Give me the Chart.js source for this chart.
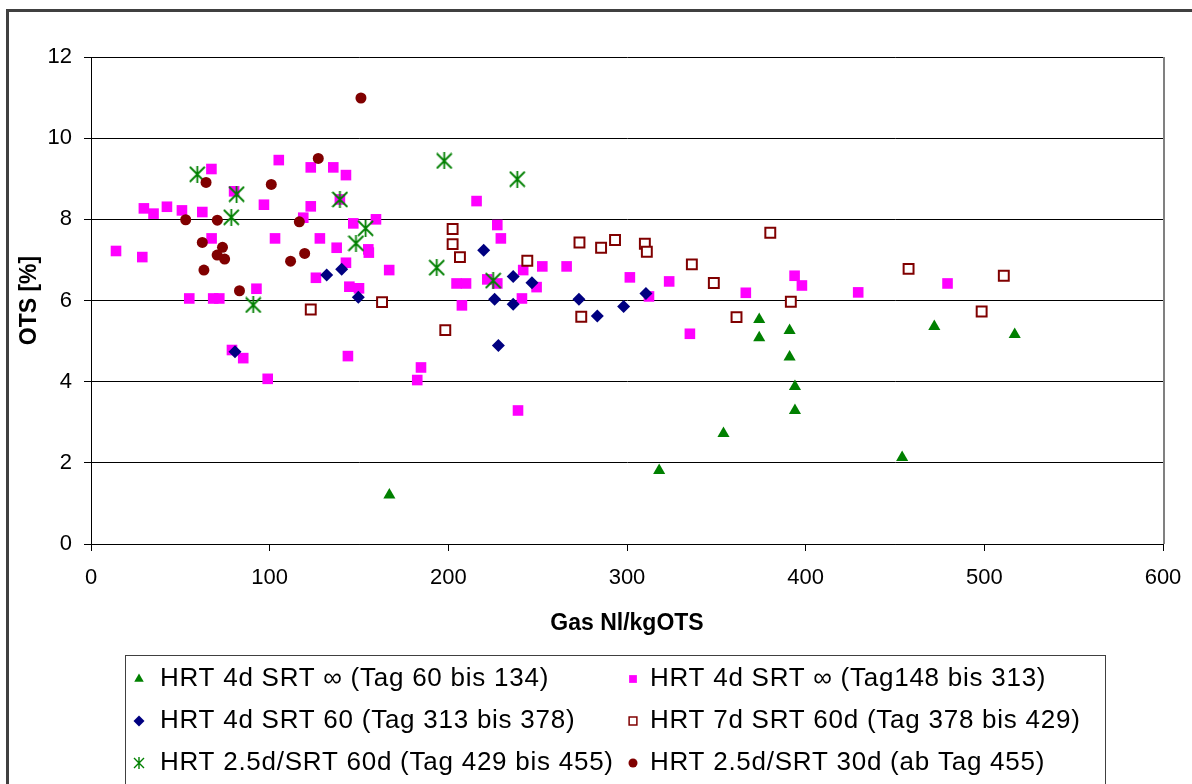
<!DOCTYPE html>
<html>
<head>
<meta charset="utf-8">
<script src="https://cdn.jsdelivr.net/npm/chart.js@4.4.1/dist/chart.umd.min.js"></script>
<style>
  html, body { margin: 0; padding: 0; background: #fff; }
  canvas { display: block; }
</style>
</head>
<body>
<canvas id="otsChart" width="1192" height="784"></canvas>
<script>
// HRT 4d SRT inf (Tag 60 bis 134)
const triX = [167, 318, 354, 374, 374, 391, 391, 394, 394, 454, 472, 517];
const triY = [1.21, 1.81, 2.72, 5.53, 5.08, 5.26, 4.61, 3.88, 3.29, 2.13, 5.36, 5.16];

// HRT 4d SRT inf (Tag148 bis 313)
const magX = [14, 28.7, 29.6, 35, 42.5, 50.9, 55, 62.3, 67.4, 67.5,
              68.4, 71.8, 80.1, 78.9, 85.2, 92.6, 96.8, 98.9, 103, 105.1,
              118.8, 123, 123, 125.9, 128.1, 135.6, 137.5, 139.3, 142.7, 142.7,
              143.8, 144.6, 146.8, 150, 155.2, 155.5, 159.5, 166.9, 182.6, 184.7,
              204.6, 207.6, 209.9, 215.8, 221.8, 227.4, 227.4, 229.4, 239, 241.2,
              241.9, 249.4, 252.6, 266.2, 301.6, 312.3, 323.6, 335.2, 366.5, 393.8,
              397.9, 429.4, 479.4];
const magY = [7.22, 7.07, 8.27, 8.14, 8.31, 8.22, 6.05, 8.18, 9.24, 7.53,
              6.05, 6.05, 8.69, 4.78, 4.58, 6.29, 8.36, 4.07, 7.53, 9.46,
              8.04, 8.32, 9.28, 6.56, 7.53, 9.28, 7.30, 8.49, 9.09, 6.93,
              4.63, 6.34, 7.90, 6.30, 7.26, 7.18, 8.00, 6.75, 4.04, 4.35,
              6.42, 5.88, 6.42, 8.45, 6.52, 6.42, 7.86, 7.53, 3.29, 6.05,
              6.75, 6.33, 6.84, 6.84, 6.57, 6.10, 6.47, 5.18, 6.19, 6.61,
              6.37, 6.20, 6.42];

// HRT 4d SRT 60 (Tag 313 bis 378)
const diaX = [80.6, 131.9, 140.3, 149.6, 219.8, 225.9, 228, 236.3, 236.3, 246.8, 273.1, 283.4, 298.1, 310.6];
const diaY = [4.74, 6.63, 6.77, 6.08, 7.24, 6.03, 4.89, 6.59, 5.91, 6.44, 6.03, 5.62, 5.85, 6.17];

// HRT 7d SRT 60d (Tag 378 bis 429)
const openX = [123, 162.9, 198.3, 202.4, 202.4, 206.5, 244.2, 273.4, 274.4, 285.5, 293.3,
               310, 311.1, 336.3, 348.6, 361.3, 380.2, 391.7, 457.6, 498.5, 510.9];
const openY = [5.78, 5.96, 5.27, 7.76, 7.39, 7.07, 6.98, 7.43, 5.60, 7.30, 7.49,
               7.40, 7.20, 6.89, 6.43, 5.59, 7.67, 5.97, 6.78, 5.73, 6.61];

// HRT 2.5d/SRT 60d (Tag 429 bis 455)
const starX = [59.5, 78.5, 81.5, 90.8, 139.3, 148.3, 153.7, 193.5, 197.7, 225.1, 238.6];
const starY = [9.11, 8.05, 8.62, 5.89, 8.49, 7.41, 7.78, 6.81, 9.44, 6.49, 8.99];

// HRT 2.5d/SRT 30d (ab Tag 455)
const circX = [53, 62.3, 63.2, 64.4, 70.7, 70.6, 73.6, 74.8, 83.1, 100.9, 111.7, 116.6, 119.6, 127.2, 151.1];
const circY = [7.99, 7.43, 6.75, 8.91, 7.98, 7.12, 7.31, 7.02, 6.24, 8.86, 6.97, 7.94, 7.16, 9.50, 10.99];

const seriesLabels = [
    "HRT 4d SRT \u221E (Tag 60 bis 134)",
    "HRT 4d SRT \u221E (Tag148 bis 313)",
    "HRT 4d SRT 60 (Tag 313 bis 378)",
    "HRT 7d SRT 60d (Tag 378 bis 429)",
    "HRT 2.5d/SRT 60d (Tag 429 bis 455)",
    "HRT 2.5d/SRT 30d (ab Tag 455)"
];

const xTicks = [0, 100, 200, 300, 400, 500, 600];
const yTicks = [0, 2, 4, 6, 8, 10, 12];

const FONT = '"Liberation Sans", Arial, sans-serif';

function zip(xs, ys) {
    return xs.map((x, i) => ({ x: x, y: ys[i] }));
}

// excel style star: X plus vertical stroke
function makeStar(size, color, lw) {
    const c = document.createElement("canvas");
    c.width = size;
    c.height = size;
    const g = c.getContext("2d");
    g.strokeStyle = color;
    g.lineWidth = lw;
    g.beginPath();
    g.moveTo(1, 1); g.lineTo(size - 1, size - 1);
    g.moveTo(size - 1, 1); g.lineTo(1, size - 1);
    g.moveTo(size / 2, 0); g.lineTo(size / 2, size);
    g.stroke();
    return c;
}

const starBig = makeStar(17, "#008000", 1.8);
const starSmall = makeStar(12, "#008000", 1.4);

const frame = {
    id: "frame",
    beforeDraw(chart) {
        const ctx = chart.ctx;
        ctx.save();
        ctx.fillStyle = "#fff";
        ctx.fillRect(0, 0, chart.width, chart.height);
        ctx.strokeStyle = "#404040";
        ctx.lineWidth = 3;
        ctx.strokeRect(7.5, 10.5, 1400, 1000);
        ctx.restore();
    },
    afterDraw(chart) {
        const ctx = chart.ctx;
        const a = chart.chartArea;
        ctx.save();
        ctx.strokeStyle = "#808080";
        ctx.lineWidth = 2;
        ctx.beginPath();
        ctx.moveTo(a.right + 1, a.top);
        ctx.lineTo(a.right + 1, a.bottom);
        ctx.stroke();

        // legend box
        ctx.strokeStyle = "#404040";
        ctx.lineWidth = 1;
        ctx.strokeRect(125.5, 655.5, 980, 200);
        ctx.font = "26px " + FONT;
        ctx.letterSpacing = "0.75px";
        ctx.textBaseline = "middle";
        chart.data.datasets.forEach((ds, i) => {
            const col = i % 2;
            const row = Math.floor(i / 2);
            const mx = col ? 633 : 139;
            const tx = col ? 650 : 160;
            const y = 679 + row * 42;
            ctx.fillStyle = ds.backgroundColor;
            ctx.strokeStyle = ds.borderColor;
            ctx.lineWidth = ds.legendBorder;
            Chart.helpers.drawPoint(ctx, {
                pointStyle: ds.legendStyle,
                radius: ds.legendRadius,
                borderWidth: ds.legendBorder,
                rotation: 0
            }, mx, y);
            ctx.fillStyle = "#000";
            ctx.fillText(ds.label, tx, y);
        });
        ctx.restore();
    }
};

new Chart(document.getElementById("otsChart").getContext("2d"), {
    type: "scatter",
    data: {
        datasets: [{
            label: seriesLabels[0],
            data: zip(triX, triY),
            pointStyle: "triangle",
            pointRadius: 7,
            backgroundColor: "#008000",
            borderColor: "#008000",
            borderWidth: 0,
            legendStyle: "triangle", legendRadius: 5.5, legendBorder: 0,
            order: 6
        }, {
            label: seriesLabels[1],
            data: zip(magX, magY),
            pointStyle: "rect",
            pointRadius: 7.5,
            backgroundColor: "#ff00ff",
            borderColor: "#ff00ff",
            borderWidth: 0,
            legendStyle: "rect", legendRadius: 5.5, legendBorder: 0,
            order: 5
        }, {
            label: seriesLabels[2],
            data: zip(diaX, diaY),
            pointStyle: "rectRot",
            pointRadius: 6.5,
            backgroundColor: "#000080",
            borderColor: "#000080",
            borderWidth: 0,
            legendStyle: "rectRot", legendRadius: 5.5, legendBorder: 0,
            order: 4
        }, {
            label: seriesLabels[3],
            data: zip(openX, openY),
            pointStyle: "rect",
            pointRadius: 7,
            backgroundColor: "#ffffff",
            borderColor: "#800000",
            borderWidth: 2,
            legendStyle: "rect", legendRadius: 5.5, legendBorder: 1.5,
            order: 3
        }, {
            label: seriesLabels[4],
            data: zip(starX, starY),
            pointStyle: starBig,
            backgroundColor: "#008000",
            borderColor: "#008000",
            legendStyle: starSmall, legendRadius: 5, legendBorder: 0,
            order: 2
        }, {
            label: seriesLabels[5],
            data: zip(circX, circY),
            pointStyle: "circle",
            pointRadius: 5.5,
            backgroundColor: "#800000",
            borderColor: "#800000",
            borderWidth: 0,
            legendStyle: "circle", legendRadius: 4.5, legendBorder: 0,
            order: 1
        }]
    },
    options: {
        responsive: false,
        animation: false,
        events: [],
        layout: {
            padding: { top: 57, right: 29, bottom: 140, left: 0 }
        },
        plugins: {
            legend: { display: false },
            tooltip: { enabled: false }
        },
        scales: {
            x: {
                type: "linear",
                min: 0,
                max: 600,
                afterFit: (s) => { s.height = 100; },
                afterBuildTicks: (s) => { s.ticks = xTicks.map(v => ({ value: v })); },
                ticks: {
                    color: "#000",
                    font: { family: FONT, size: 22, lineHeight: 1.55 },
                    padding: 10,
                    maxRotation: 0
                },
                grid: {
                    drawOnChartArea: false,
                    drawTicks: true,
                    tickLength: 7,
                    color: "#000"
                },
                border: { color: "#000", width: 1 },
                title: {
                    display: true,
                    text: "Gas Nl/kgOTS",
                    color: "#000",
                    font: { family: FONT, size: 23, weight: "bold" },
                    padding: { top: 0, bottom: 7 }
                }
            },
            y: {
                type: "linear",
                min: 0,
                max: 12,
                afterFit: (s) => { s.width = 91; },
                afterBuildTicks: (s) => { s.ticks = yTicks.map(v => ({ value: v })); },
                ticks: {
                    color: "#000",
                    font: { family: FONT, size: 22 },
                    padding: 12
                },
                grid: {
                    color: "#000",
                    lineWidth: 1,
                    tickLength: 7
                },
                border: { color: "#000", width: 1 },
                title: {
                    display: true,
                    text: "OTS [%]",
                    color: "#000",
                    font: { family: FONT, size: 23, weight: "bold" },
                    padding: { top: 16, bottom: 0 }
                }
            }
        }
    },
    plugins: [frame]
});
</script>
</body>
</html>
